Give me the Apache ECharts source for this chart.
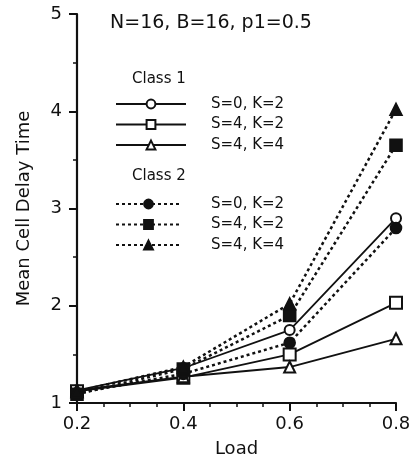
<!DOCTYPE html>
<html>
<head>
<meta charset="utf-8">
<script src="https://cdn.jsdelivr.net/npm/echarts@6/dist/echarts.min.js"></script>
<style>
  html, body { margin: 0; padding: 0; background: #fff; }
  #chart { width: 418px; height: 463px; }
</style>
</head>
<body>
<div id="chart"></div>
<script>
// load values on the x axis
const loads = [0.2, 0.4, 0.6, 0.8]

// Class 1 (solid lines, open markers)
const c1S0K2 = [1.13, 1.36, 1.75, 2.9]
const c1S4K2 = [1.12, 1.26, 1.5, 2.03]
const c1S4K4 = [1.13, 1.27, 1.37, 1.66]

// Class 2 (dotted lines, filled markers)
const c2S0K2 = [1.1, 1.3, 1.62, 2.8]
const c2S4K2 = [1.09, 1.35, 1.9, 3.65]
const c2S4K4 = [1.12, 1.37, 2.02, 4.02]

const font = 'DejaVu Sans'
const ink = '#111'

const pairs = arr => loads.map((x, i) => [x, arr[i]])

const mkSeries = (name, data, symbol, size, dotted) => ({
  name: name,
  type: 'line',
  data: pairs(data),
  symbol: symbol,
  symbolSize: size,
  showAllSymbol: true,
  lineStyle: { color: ink, width: dotted ? 2.5 : 1.8, type: dotted ? [3, 3] : 'solid' },
  itemStyle: { color: ink, borderColor: ink, borderWidth: 1.6 },
  emphasis: { disabled: true }
})

const chart = echarts.init(document.getElementById('chart'))

chart.setOption({
  backgroundColor: '#fff',
  animation: false,
  title: [
    { text: 'N=16, B=16, p1=0.5', left: 110, top: 14, padding: 0,
      textStyle: { fontFamily: font, fontSize: 19, fontWeight: 'normal', color: ink } },
    { text: 'Class 1', left: 132, top: 72, padding: 0,
      textStyle: { fontFamily: font, fontSize: 15, fontWeight: 'normal', color: ink } },
    { text: 'Class 2', left: 132, top: 169, padding: 0,
      textStyle: { fontFamily: font, fontSize: 15, fontWeight: 'normal', color: ink } }
  ],
  legend: [
    {
      data: ['Class 1: S=0, K=2', 'Class 1: S=4, K=2', 'Class 1: S=4, K=4'],
      orient: 'vertical', left: 115, top: 96, padding: 0,
      itemWidth: 70, itemHeight: 11, itemGap: 4.5,
      formatter: name => name.split(': ')[1],
      textStyle: { fontFamily: font, fontSize: 15, lineHeight: 16, color: ink, padding: [0, 0, 0, 20] }
    },
    {
      data: ['Class 2: S=0, K=2', 'Class 2: S=4, K=2', 'Class 2: S=4, K=4'],
      orient: 'vertical', left: 115, top: 196, padding: 0,
      itemWidth: 65, itemHeight: 11, itemGap: 4.5,
      formatter: name => name.split(': ')[1],
      textStyle: { fontFamily: font, fontSize: 15, lineHeight: 16, color: ink, padding: [0, 0, 0, 25] }
    }
  ],
  grid: { left: 77, right: 22, top: 14, bottom: 60 },
  xAxis: {
    type: 'value',
    min: 0.2, max: 0.8, interval: 0.2,
    name: 'Load',
    nameLocation: 'middle',
    nameGap: 37,
    nameTextStyle: { fontFamily: font, fontSize: 18, color: ink },
    axisLine: { lineStyle: { color: ink, width: 2.2 } },
    axisTick: { length: 8, lineStyle: { color: ink, width: 2 } },
    minorTick: { show: true, splitNumber: 4, length: 4, lineStyle: { color: ink, width: 1.5 } },
    axisLabel: { fontFamily: font, fontSize: 18, color: ink, margin: 12,
      formatter: v => v.toFixed(1) },
    splitLine: { show: false }
  },
  yAxis: {
    type: 'value',
    min: 1, max: 5, interval: 1,
    name: 'Mean Cell Delay Time',
    nameLocation: 'middle',
    nameGap: 44,
    nameTextStyle: { fontFamily: font, fontSize: 18, color: ink },
    axisLine: { show: true, lineStyle: { color: ink, width: 2.2 } },
    axisTick: { show: true, length: 8, lineStyle: { color: ink, width: 2 } },
    minorTick: { show: true, splitNumber: 2, length: 4, lineStyle: { color: ink, width: 1.5 } },
    axisLabel: { fontFamily: font, fontSize: 18, color: ink, margin: 15 },
    splitLine: { show: false }
  },
  series: [
    mkSeries('Class 1: S=0, K=2', c1S0K2, 'emptyCircle', 10, false),
    mkSeries('Class 1: S=4, K=2', c1S4K2, 'emptyRect', 12, false),
    mkSeries('Class 1: S=4, K=4', c1S4K4, 'emptyTriangle', 11, false),
    mkSeries('Class 2: S=0, K=2', c2S0K2, 'circle', 11, true),
    mkSeries('Class 2: S=4, K=2', c2S4K2, 'rect', 12, true),
    mkSeries('Class 2: S=4, K=4', c2S4K4, 'triangle', 12, true)
  ]
})
</script>
</body>
</html>
